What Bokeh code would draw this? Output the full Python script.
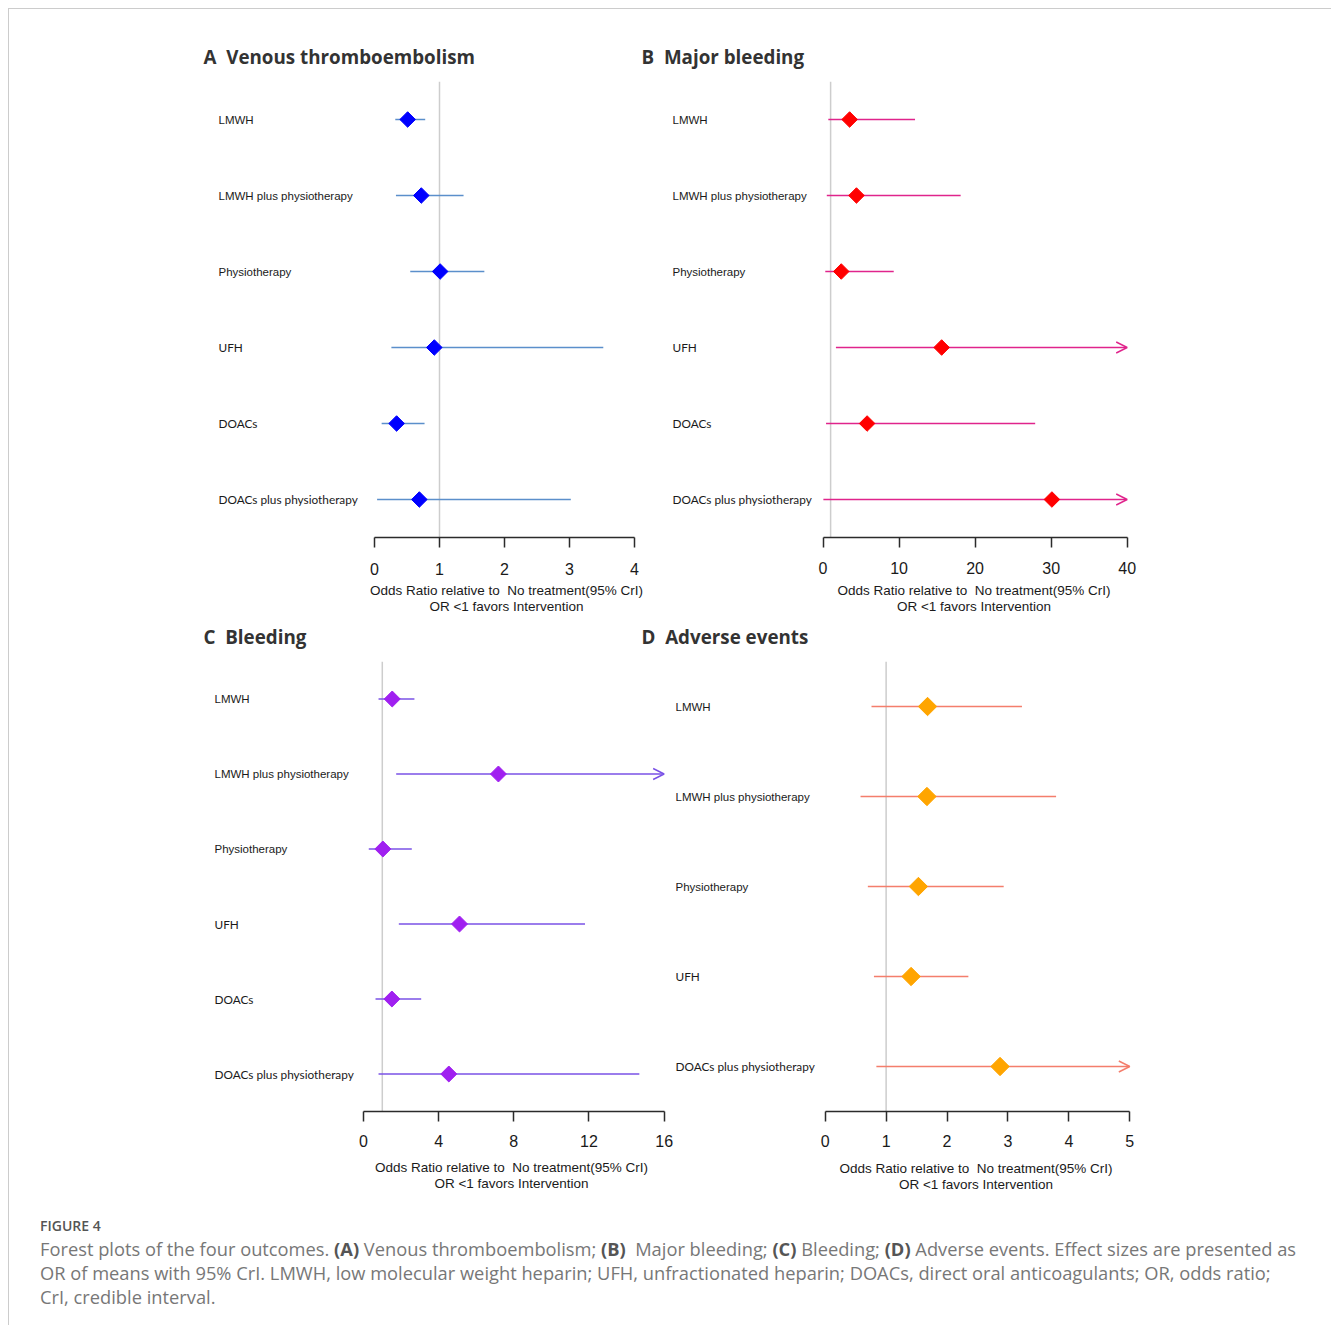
import math
from bokeh.plotting import figure
from bokeh.models import (Range1d, FixedTicker, Span, Arrow, OpenHead, ColumnDataSource,
                          Div, LinearAxis)
from bokeh.layouts import column, row
from bokeh.embed import file_html
from bokeh.resources import INLINE
from bokeh.core.properties import value

# ---------------- data ----------------
treat6 = ["LMWH", "LMWH plus physiotherapy", "Physiotherapy", "UFH", "DOACs",
          "DOACs plus physiotherapy"]
treat5 = ["LMWH", "LMWH plus physiotherapy", "Physiotherapy", "UFH",
          "DOACs plus physiotherapy"]

# A  Venous thromboembolism
vte_or = [0.51, 0.72, 1.01, 0.92, 0.34, 0.69]
vte_lo = [0.32, 0.33, 0.55, 0.26, 0.11, 0.04]
vte_hi = [0.78, 1.37, 1.69, 3.52, 0.77, 3.02]
vte_ticks = [0, 1, 2, 3, 4]

# B  Major bleeding (None = upper limit beyond the axis)
mb_or = [3.5, 4.4, 2.4, 15.6, 5.8, 30.1]
mb_lo = [0.7, 0.5, 0.3, 1.7, 0.4, 0.05]
mb_hi = [12.1, 18.1, 9.3, None, 27.9, None]
mb_ticks = [0, 10, 20, 30, 40]

# C  Bleeding
bl_or = [1.53, 7.18, 1.03, 5.11, 1.51, 4.54]
bl_lo = [0.80, 1.74, 0.28, 1.88, 0.64, 0.80]
bl_hi = [2.71, None, 2.57, 11.79, 3.07, 14.68]
bl_ticks = [0, 4, 8, 12, 16]

# D  Adverse events
ae_or = [1.68, 1.67, 1.53, 1.41, 2.87]
ae_lo = [0.76, 0.58, 0.70, 0.80, 0.84]
ae_hi = [3.23, 3.79, 2.93, 2.35, None]
ae_ticks = [0, 1, 2, 3, 4, 5]

xlabel = "Odds Ratio relative to\u00a0 No treatment(95% CrI)\nOR <1 favors Intervention"
titles = ["A\u00a0 Venous thromboembolism", "B\u00a0 Major bleeding",
          "C\u00a0 Bleeding", "D\u00a0 Adverse events"]


def base_fig(width, height, xr, yr, mbl=0, mbr=0, mbt=0, mbb=0):
    p = figure(width=width, height=height, x_range=xr, y_range=yr,
               output_backend="svg", toolbar_location=None,
               x_axis_location=None, y_axis_location=None,
               min_border_left=mbl, min_border_right=mbr,
               min_border_top=mbt, min_border_bottom=mbb)
    p.outline_line_color = None
    p.background_fill_color = "white"
    p.border_fill_color = "white"
    p.grid.visible = False
    return p


def label_fig(labels, width, height, text_x, mbt, mbb):
    n = len(labels)
    fonts = ["Lato" if (s.startswith("UFH") or s.startswith("DOACs")) else "Liberation Sans"
             for s in labels]
    sizes = ["11.8px" if f == "Lato" else "11.5px" for f in fonts]
    src = ColumnDataSource(dict(y=list(range(n)), label=labels, font=fonts, size=sizes))
    p = base_fig(width, height, Range1d(0, 1), Range1d(n - 0.5, -0.5), mbt=mbt, mbb=mbb)
    p.text(x=0, y="y", text="label", text_font="font", text_font_size="size", source=src,
           text_baseline="middle", text_align="left",
           x_offset=text_x, text_color="#1a1a1a")
    return p


def plot_fig(est, lo, hi, ticks, line_c, dia_c, frame_left, frame_right, zero_px,
             ppu, height, mbt, mbb, mbr, dia_size, tick_so, lab_so):
    n = len(est)
    xmax = ticks[-1]
    xr = Range1d((frame_left - zero_px) / ppu, (frame_right - zero_px) / ppu)
    p = base_fig(frame_right - frame_left + mbr, height, xr, Range1d(n - 0.5, -0.5),
                 mbr=mbr, mbt=mbt, mbb=mbb)
    ys = list(range(n))
    p.add_layout(Span(location=1, dimension="height", line_color="#cdcdcd",
                      line_width=1.5, level="underlay"))
    closed = [i for i in ys if hi[i] is not None]
    opened = [i for i in ys if hi[i] is None]
    if closed:
        s = ColumnDataSource(dict(y=closed, lo=[lo[i] for i in closed],
                                  hi=[hi[i] for i in closed]))
        p.segment(x0="lo", y0="y", x1="hi", y1="y", source=s, line_color=line_c,
                  line_width=1.5)
    if opened:
        s = ColumnDataSource(dict(y=opened, lo=[lo[i] for i in opened],
                                  hi=[xmax for i in opened]))
        p.add_layout(Arrow(end=OpenHead(size=11, line_color=line_c, line_width=1.4),
                           x_start="lo", y_start="y", x_end="hi", y_end="y",
                           source=s, line_color=line_c, line_width=1.5,
                           level="underlay"))
    d = ColumnDataSource(dict(y=ys, est=est))
    p.scatter(x="est", y="y", source=d, marker="square", angle=math.pi / 4,
              size=dia_size, fill_color=dia_c, line_color=dia_c)

    ax = LinearAxis(ticker=FixedTicker(ticks=ticks), bounds=(0, xmax))
    ax.axis_label = xlabel
    ax.axis_line_color = "#2b2b2b"
    ax.axis_line_width = 1.5
    ax.major_tick_line_color = "#2b2b2b"
    ax.major_tick_line_width = 1.5
    ax.major_tick_out = 10
    ax.major_tick_in = 0
    ax.minor_tick_line_color = None
    ax.major_label_standoff = tick_so
    ax.major_label_text_font = "Liberation Sans"
    ax.major_label_text_font_size = "16px"
    ax.major_label_text_color = "#1a1a1a"
    ax.axis_label_standoff = lab_so
    ax.axis_label_text_font = "Liberation Sans"
    ax.axis_label_text_font_size = "13.5px"
    ax.axis_label_text_font_style = "normal"
    ax.axis_label_text_line_height = 1.1
    ax.axis_label_text_color = "#1a1a1a"
    p.add_layout(ax, "below")
    return p


def title_fig(width, height, items):
    p = base_fig(width, height, Range1d(0, 1), Range1d(0, 1))
    src = ColumnDataSource(dict(t=[it[2] for it in items],
                                xo=[it[0] for it in items],
                                yo=[it[1] for it in items]))
    p.text(x=0, y=1, text="t", x_offset="xo", y_offset="yo", source=src,
           text_font=value("Open Sans"), text_font_size=value("18.8px"),
           text_font_style="bold", text_color="#333333",
           text_baseline="middle", text_align="left")
    return p


# ---------------- layout (page coordinates; layout content starts at x=y=10) ----------------
OX = 10
W = 1318

R1 = 74      # bottom of first title strip
t1 = title_fig(W, R1 - OX, [(204 - OX, 57 - OX, titles[0]), (642 - OX, 57 - OX, titles[1])])

H1 = 618 - R1
labA = label_fig(treat6, 368 - OX, H1, 219 - OX, mbt=82 - R1, mbb=80)
pA = plot_fig(vte_or, vte_lo, vte_hi, vte_ticks, "#5b8fcb", "#0000ff",
              368, 646, 375.0, 65.0, H1, 82 - R1, 80, 0, 11, 15, 5)
labB = label_fig(treat6, 818 - 646, H1, 673 - 646, mbt=76 - R1, mbb=80)
pB = plot_fig(mb_or, mb_lo, mb_hi, mb_ticks, "#e0248c", "#ff0000",
              818, 1131, 823.5, 7.605, H1, 76 - R1, 80, 10, 11, 14, 6)

R2 = 655     # bottom of second title strip
t2 = title_fig(W, R2 - 618, [(204 - OX, 637 - 618, titles[2]), (642 - OX, 637 - 618, titles[3])])

H2 = 1200 - R2
labC = label_fig(treat6, 356 - OX, H2, 215 - OX, mbt=656 - R2, mbb=86)
pC = plot_fig(bl_or, bl_lo, bl_hi, bl_ticks, "#7a52e6", "#a020f0",
              356, 668, 364.0, 18.79, H2, 656 - R2, 86, 8, 11.3, 13, 10)
labD = label_fig(treat5, 820 - 676, H2, 0, mbt=662 - R2, mbb=88)
pD = plot_fig(ae_or, ae_lo, ae_hi, ae_ticks, "#f47e6c", "#ffa500",
              820, 1133, 825.7, 60.92, H2, 662 - R2, 88, 8, 13, 13, 11)

B = '<b style="color:#555;font-weight:700">'
cap_html = (
    '<div style="font-family:\'Open Sans\',sans-serif;color:#777;font-size:18.3px;'
    'line-height:24px;padding-left:26px;padding-top:13px;white-space:nowrap;">'
    '<div style="font-size:14px;line-height:18px;font-weight:600;color:#555;'
    'margin-bottom:2px;">FIGURE 4</div>'
    'Forest plots of the four outcomes. ' + B + '(A)</b> Venous thromboembolism; '
    + B + '(B)</b>&nbsp; Major bleeding; ' + B + '(C)</b> Bleeding; '
    + B + '(D)</b> Adverse events. Effect sizes are presented as<br>'
    'OR of means with 95% CrI. LMWH, low molecular weight heparin; UFH, unfractionated '
    'heparin; DOACs, direct oral anticoagulants; OR, odds ratio;<br>'
    'CrI, credible interval.</div>'
)
cap = Div(text=cap_html, width=W, height=116)

layout = column(t1, row(labA, pA, labB, pB), t2, row(labC, pC, labD, pD), cap,
                styles={"border-top": "1px solid #cccccc",
                        "border-left": "1px solid #cccccc",
                        "margin-left": "8px", "margin-top": "8px"})

open("out.html", "w").write(file_html(layout, INLINE))
